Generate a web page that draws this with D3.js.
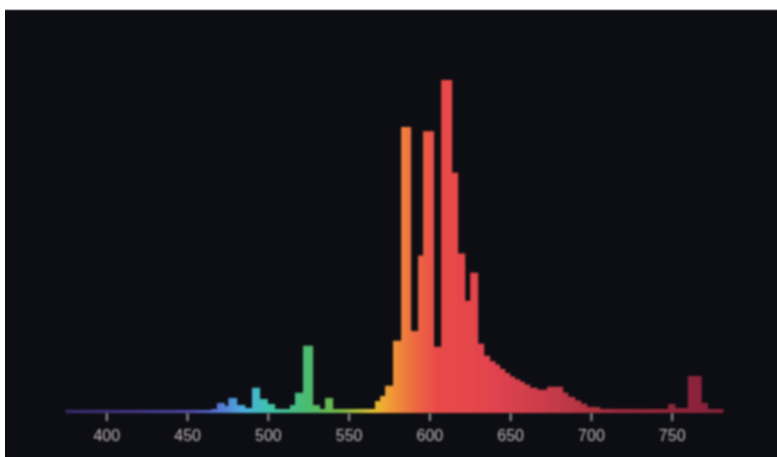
<!DOCTYPE html>
<html>
<head>
<meta charset="utf-8">
<script src="https://cdn.jsdelivr.net/npm/d3@7"></script>
<style>
  html, body { margin: 0; padding: 0; background: #fff; }
  svg { display: block; }
</style>
</head>
<body>
<svg id="container"></svg>
<script>
// bin edges (nm) and relative power of each bin (bin i runs from binEdges[i] to binEdges[i+1])
var binEdges = [376, 465, 468.5, 473.5, 475.5, 481, 486, 490.2, 495.2, 500, 504.5, 513.7, 516.8, 521.8, 528,
                532.3, 535.4, 540.4, 566.4, 569.5, 572.6, 577.5, 582.5, 588.7, 593, 596.1, 602.9, 607.3, 614.1,
                617.8, 622.2, 625.3, 630.2, 633.9, 637.6, 641, 643.8, 647, 650, 653, 656.2, 659, 662.4, 667, 672.9,
                682.8, 686, 690.3, 694, 697.7, 705.7, 747.8, 752.2, 760, 768.6, 772.4, 782];
var binPower = [0.3, 0.6, 2.4, 1.5, 3.9, 1.8, 0.9, 7, 3.6, 2.1, 0.6, 1.8, 5.5, 19.7, 1.8,
                0.6, 3.9, 0.6, 3, 4.5, 7.6, 21.2, 85.8, 24.2, 47, 84.5, 19.4, 100, 72,
                47.6, 33.3, 41.8, 20.3, 16.7, 15, 14, 12.7, 11.5, 10.4, 9.6, 8.8, 8, 7, 6.4, 7.3,
                5.5, 4.2, 3.2, 2.2, 1.2, 0.6, 2.1, 0.9, 10.6, 2.4, 0.6];
var tickNm = [400, 450, 500, 550, 600, 650, 700, 750];

// colour of light along the spectrum
var stopNm =    [376, 420, 450, 470, 485, 500, 525, 545, 565, 575, 590, 605, 640, 680, 720, 782];
var stopColor = ['#3a2c6e', '#483a8e', '#5448ad', '#5676d4', '#4aaedf', '#3ec3ad', '#4cbb6e', '#78b843',
                 '#e6c233', '#f29c34', '#ec6c42', '#e94a48', '#e2434f', '#c23a48', '#9c2a3c', '#84203a'];

window.onload = function(){

    const W = 777, H = 457;
    var svg = d3.select("#container").attr("width", W).attr("height", H);

    var defs = svg.append("defs");
    defs.append("filter").attr("id", "soft")
        .attr("x", "-5%").attr("y", "-5%").attr("width", "110%").attr("height", "110%")
        .append("feGaussianBlur").attr("stdDeviation", 0.8);

    // black photo panel
    svg.append("rect").attr("x", 5).attr("y", 10).attr("width", W - 5).attr("height", H - 10)
        .attr("fill", "#0d0e13");
    svg.append("line").attr("x1", 5).attr("x2", W).attr("y1", 10).attr("y2", 10)
        .attr("stroke", "#6b6b70").attr("stroke-width", 1);

    var x = d3.scaleLinear().domain([400, 750]).range([106.3, 671.7]);
    var y = d3.scaleLinear().domain([0, 100]).range([411, 80]);

    var grad = defs.append("linearGradient").attr("id", "spec")
        .attr("gradientUnits", "userSpaceOnUse")
        .attr("x1", x(stopNm[0])).attr("x2", x(stopNm[stopNm.length - 1]))
        .attr("y1", 0).attr("y2", 0);
    var span = stopNm[stopNm.length - 1] - stopNm[0];
    stopNm.forEach(function(n, i){
        grad.append("stop").attr("offset", (n - stopNm[0]) / span).attr("stop-color", stopColor[i]);
    });

    var chartBody = svg.append("g").attr("filter", "url(#soft)");

    // step area of the bins
    var pts = binPower.map(function(p, i){ return [binEdges[i], p]; });
    pts.push([binEdges[binEdges.length - 1], binPower[binPower.length - 1]]);

    var area = d3.area()
        .curve(d3.curveStepAfter)
        .x(d => x(d[0]))
        .y0(y(0))
        .y1(d => y(d[1]));

    chartBody.append("path").datum(pts)
        .attr("d", area)
        .attr("fill", "url(#spec)");

    // baseline
    chartBody.append("line")
        .attr("x1", x(binEdges[0])).attr("x2", x(binEdges[binEdges.length - 1]))
        .attr("y1", y(0) + 0.5).attr("y2", y(0) + 0.5)
        .attr("stroke", "url(#spec)").attr("stroke-width", 3);
    chartBody.append("circle").attr("cx", x(binEdges[0])).attr("cy", y(0) + 0.5).attr("r", 2)
        .attr("fill", "#3a2c6e");

    var xAxis = d3.axisBottom(x).tickValues(tickNm).tickSize(8).tickPadding(9);
    var gX = svg.append("g")
        .attr("transform", "translate(0," + (y(0) + 2) + ")")
        .attr("filter", "url(#soft)")
        .call(xAxis);
    gX.select(".domain").remove();
    gX.selectAll(".tick line").attr("stroke", "#a39c9c").attr("stroke-width", 2);
    gX.selectAll(".tick text")
        .attr("fill", "#c4bcbb")
        .style("font-family", "'Liberation Sans', Arial, sans-serif")
        .style("font-size", "16px");
};
</script>
</body>
</html>
